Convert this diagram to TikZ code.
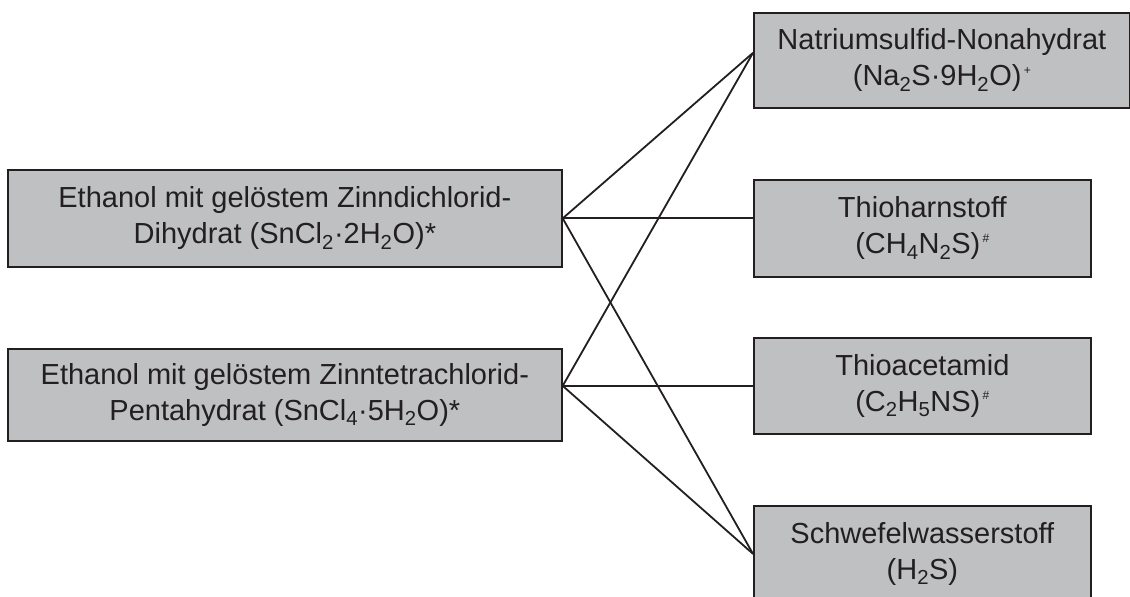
\documentclass[tikz,border=0pt]{standalone}
\usepackage{fontspec}
\setmainfont{Liberation Sans}
\usetikzlibrary{calc}
\definecolor{boxgray}{RGB}{190,192,194}
\definecolor{ink}{RGB}{35,31,32}
% small raised marker after a formula (+ or #)
\newcommand\tinymark[1]{\hspace{0.08em}\raisebox{0.75ex}{\fontsize{12}{12}\selectfont #1}}
\begin{document}
\begin{tikzpicture}[x=1pt,y=-1pt,
  box/.style={draw=ink, fill=boxgray, line width=1.7pt, inner sep=0pt,
    anchor=north west, align=center, text=ink,
    font=\fontsize{29}{36}\selectfont},
  link/.style={draw=ink, line width=1.8pt}]
\useasboundingbox (0,0) rectangle (1130,597);

% left column: tin salt solutions
\node[box, minimum width=554pt, minimum height=97pt] (l1) at (7,169)
  {Ethanol mit gelöstem Zinndichlorid-\\Dihydrat (SnCl\textsubscript{2}·2H\textsubscript{2}O)*};
\node[box, minimum width=554pt, minimum height=92pt] (l2) at (7,348)
  {Ethanol mit gelöstem Zinntetrachlorid-\\Pentahydrat (SnCl\textsubscript{4}·5H\textsubscript{2}O)*};

% right column: sulfur sources
\node[box, minimum width=376pt, minimum height=95pt] (ra) at (753,12)
  {Natriumsulfid-Nonahydrat\\(Na\textsubscript{2}S·9H\textsubscript{2}O)\tinymark{+}};
\node[box, minimum width=337pt, minimum height=97pt] (rb) at (753,179)
  {Thioharnstoff\\(CH\textsubscript{4}N\textsubscript{2}S)\tinymark{\#}};
\node[box, minimum width=337pt, minimum height=96pt] (rc) at (753,337)
  {Thioacetamid\\(C\textsubscript{2}H\textsubscript{5}NS)\tinymark{\#}};
% last box: its lower edge lies just below the page
\node[box, minimum width=337pt, minimum height=96pt] (rd) at (753,505)
  {Schwefelwasserstoff\\(H\textsubscript{2}S)};

% connection ports
\coordinate (l2p) at ([yshift=9pt]l2.east);
\coordinate (rap) at ([yshift=7.5pt]ra.west);

% connectors
\draw[link] (l1.east) -- (rap);
\draw[link] (l1.east) -- (l1.east -| rb.west);
\draw[link] (l1.east) -- (rd.west);
\draw[link] (l2p) -- (rap);
\draw[link] (l2p) -- (l2p -| rc.west);
\draw[link] (l2p) -- (rd.west);
\end{tikzpicture}
\end{document}
